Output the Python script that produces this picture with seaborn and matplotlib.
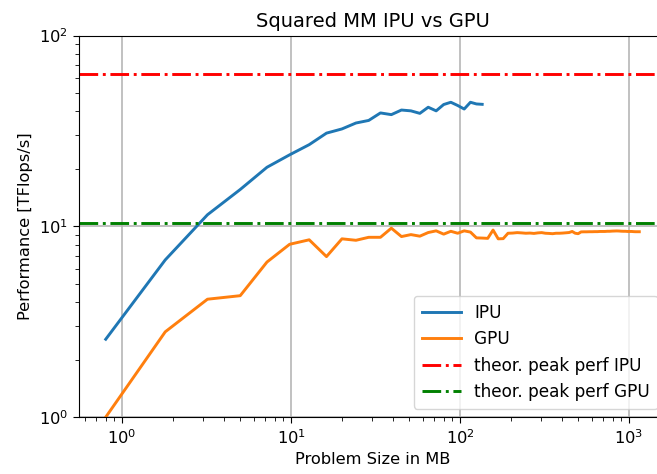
import matplotlib
matplotlib.use('Agg')
import matplotlib.pyplot as plt
import seaborn as sns
import pandas as pd

# Problem sizes (MB) and measured performance (TFlops/s)
ipu_size = [0.8, 1.8, 3.2, 5.0, 7.2, 9.8, 12.8, 16.2, 20.0, 24.2, 28.8, 33.8, 39.2, 45.0,
            51.2, 57.8, 64.8, 72.2, 80.0, 88.2, 96.8, 105.8, 115.2, 125.0, 135.2]
ipu_perf = [2.56, 6.67, 11.5, 15.6, 20.4, 23.7, 26.8, 30.8, 32.4, 34.8, 35.9, 39.3, 38.5, 40.7,
            40.3, 39.1, 42.1, 40.3, 43.5, 44.7, 43.0, 41.2, 44.7, 43.8, 43.6]

gpu_size = [0.8, 1.8, 3.2, 5.0, 7.2, 9.8, 12.8, 16.2, 20.0, 24.2, 28.8, 33.8, 39.2, 45.0,
            51.2, 57.8, 64.8, 72.2, 80.0, 88.2, 96.8, 105.8, 115.2, 125.0, 135.2, 145.8,
            156.8, 168.2, 180.0, 192.2, 204.8, 217.8, 231.2, 245.0, 259.2, 273.8, 288.8,
            304.2, 320.0, 336.2, 352.8, 369.8, 387.2, 405.0, 423.2, 441.8, 460.8, 480.2,
            500.0, 520.2, 540.8, 561.8, 583.2, 605.0, 627.2, 649.8, 672.8, 696.2, 720.0,
            744.2, 768.8, 793.8, 819.2, 845.0, 871.2, 898.0, 925.0, 952.0, 980.0, 1008.0,
            1037.0, 1066.0, 1095.0, 1125.0, 1150.0]
gpu_perf = [1.0, 2.8, 4.15, 4.33, 6.5, 8.05, 8.5, 6.94, 8.6, 8.45, 8.76, 8.76, 9.78, 8.84,
            9.05, 8.88, 9.28, 9.47, 9.1, 9.42, 9.2, 9.47, 9.33, 8.7, 8.68, 8.65,
            9.56, 8.6, 8.62, 9.2, 9.22, 9.27, 9.24, 9.2, 9.22, 9.18, 9.24,
            9.27, 9.2, 9.18, 9.15, 9.2, 9.2, 9.22, 9.25, 9.28, 9.4, 9.2,
            9.15, 9.35, 9.36, 9.36, 9.37, 9.37, 9.38, 9.38, 9.4, 9.4, 9.4,
            9.42, 9.42, 9.44, 9.45, 9.46, 9.45, 9.43, 9.42, 9.42, 9.4, 9.4,
            9.4, 9.38, 9.37, 9.37, 9.37]

# theoretical peaks
peak_ipu = 62.5
peak_gpu = 10.4

ipu_df = pd.DataFrame({'size': ipu_size, 'perf': ipu_perf})
gpu_df = pd.DataFrame({'size': gpu_size, 'perf': gpu_perf})

fig, ax = plt.subplots(figsize=(6.57, 4.74), dpi=100)
# the right part of the axes is cut off by the image edge, like the original
fig.subplots_adjust(left=0.1203, right=1.0137, top=0.925, bottom=0.12)

sns.lineplot(data=ipu_df, x='size', y='perf', ax=ax, color='tab:blue', label='IPU', linewidth=2.1)
sns.lineplot(data=gpu_df, x='size', y='perf', ax=ax, color='tab:orange', label='GPU', linewidth=2.1)
ax.axhline(peak_ipu, color='r', linestyle='-.', linewidth=2.1, label='theor. peak perf IPU')
ax.axhline(peak_gpu, color='g', linestyle='-.', linewidth=2.1, label='theor. peak perf GPU')

ax.set_xscale('log')
ax.set_yscale('log')
ax.set_xlim(0.556, 1655)
ax.set_ylim(1, 100)
ax.grid(True, which='major', color='#b0b0b0', linewidth=1.1)

ax.set_title('Squared MM IPU vs GPU', fontsize=14)
ax.set_xlabel('Problem Size in MB', fontsize=11.7)
ax.set_ylabel('Performance [TFlops/s]', fontsize=11.7)
ax.tick_params(labelsize=11.7)
ax.tick_params(which='major', length=4.5)
ax.tick_params(which='minor', length=2.6)
ax.legend(loc='lower right', fontsize=12.2, handlelength=2.3, borderpad=0.45)

plt.savefig('out.png', dpi=100)
plt.close()
